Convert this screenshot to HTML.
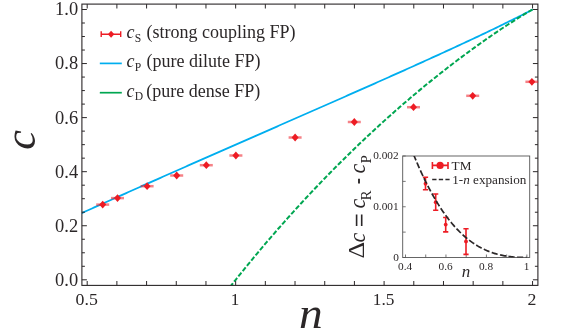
<!DOCTYPE html><html><head><meta charset="utf-8"><style>html,body{margin:0;padding:0;background:#fff}</style></head><body><svg width="581" height="329" viewBox="0 0 581 329" style="display:block;will-change:transform;font-family:'Liberation Serif',serif">
<rect width="581" height="329" fill="#fff"/>
<defs><clipPath id="cp2"><rect x="81.9" y="4.1" width="456.5" height="281.29999999999995"/></clipPath></defs>
<defs><clipPath id="cp"><rect x="81.9" y="4.1" width="456.0" height="281.29999999999995"/></clipPath></defs>
<g clip-path="url(#cp)">
<polyline points="78.29,214.65 80.58,213.62 82.86,212.58 85.14,211.55 87.42,210.52 89.71,209.48 91.99,208.45 94.27,207.42 96.55,206.39 98.84,205.36 101.12,204.33 103.40,203.31 105.69,202.28 107.97,201.25 110.25,200.23 112.53,199.20 114.82,198.18 117.10,197.15 119.38,196.13 121.66,195.11 123.95,194.09 126.23,193.07 128.51,192.04 130.80,191.02 133.08,190.00 135.36,188.99 137.64,187.97 139.93,186.95 142.21,185.93 144.49,184.92 146.77,183.90 149.06,182.88 151.34,181.87 153.62,180.85 155.90,179.84 158.19,178.83 160.47,177.81 162.75,176.80 165.04,175.79 167.32,174.78 169.60,173.76 171.88,172.75 174.17,171.74 176.45,170.73 178.73,169.72 181.01,168.71 183.30,167.70 185.58,166.70 187.86,165.69 190.15,164.68 192.43,163.67 194.71,162.67 196.99,161.66 199.28,160.65 201.56,159.65 203.84,158.64 206.12,157.63 208.41,156.63 210.69,155.62 212.97,154.62 215.25,153.62 217.54,152.61 219.82,151.61 222.10,150.60 224.39,149.60 226.67,148.60 228.95,147.59 231.23,146.59 233.52,145.59 235.80,144.58 238.08,143.58 240.36,142.58 242.65,141.58 244.93,140.58 247.21,139.57 249.50,138.57 251.78,137.57 254.06,136.57 256.34,135.57 258.63,134.57 260.91,133.56 263.19,132.56 265.47,131.56 267.76,130.56 270.04,129.56 272.32,128.56 274.61,127.56 276.89,126.56 279.17,125.55 281.45,124.55 283.74,123.55 286.02,122.55 288.30,121.55 290.58,120.55 292.87,119.55 295.15,118.54 297.43,117.54 299.71,116.54 302.00,115.54 304.28,114.53 306.56,113.53 308.85,112.53 311.13,111.53 313.41,110.52 315.69,109.52 317.98,108.52 320.26,107.51 322.54,106.51 324.82,105.50 327.11,104.50 329.39,103.50 331.67,102.49 333.96,101.48 336.24,100.48 338.52,99.47 340.80,98.47 343.09,97.46 345.37,96.45 347.65,95.44 349.93,94.44 352.22,93.43 354.50,92.42 356.78,91.41 359.06,90.40 361.35,89.39 363.63,88.38 365.91,87.36 368.20,86.35 370.48,85.34 372.76,84.32 375.04,83.31 377.33,82.30 379.61,81.28 381.89,80.26 384.17,79.25 386.46,78.23 388.74,77.21 391.02,76.19 393.31,75.17 395.59,74.15 397.87,73.13 400.15,72.11 402.44,71.08 404.72,70.06 407.00,69.03 409.28,68.01 411.57,66.98 413.85,65.95 416.13,64.92 418.42,63.89 420.70,62.86 422.98,61.82 425.26,60.79 427.55,59.75 429.83,58.72 432.11,57.68 434.39,56.64 436.68,55.60 438.96,54.56 441.24,53.51 443.52,52.47 445.81,51.42 448.09,50.37 450.37,49.32 452.66,48.27 454.94,47.22 457.22,46.16 459.50,45.10 461.79,44.05 464.07,42.98 466.35,41.92 468.63,40.85 470.92,39.79 473.20,38.72 475.48,37.64 477.77,36.57 480.05,35.49 482.33,34.41 484.61,33.33 486.90,32.24 489.18,31.15 491.46,30.06 493.74,28.96 496.03,27.86 498.31,26.76 500.59,25.65 502.87,24.54 505.16,23.43 507.44,22.31 509.72,21.18 512.01,20.05 514.29,18.91 516.57,17.77 518.85,16.62 521.14,15.46 523.42,14.30 525.70,13.12 527.98,11.93 530.27,10.73 532.55,9.50" fill="none" stroke="#00aeef" stroke-width="1.8"/>
<polyline points="532.55,9.50 531.02,10.37 529.49,11.25 527.96,12.15 526.43,13.05 524.90,13.97 523.37,14.89 521.85,15.83 520.32,16.76 518.79,17.71 517.26,18.66 515.73,19.62 514.20,20.59 512.67,21.56 511.14,22.54 509.61,23.52 508.08,24.51 506.55,25.51 505.02,26.51 503.49,27.52 501.96,28.53 500.44,29.54 498.91,30.57 497.38,31.59 495.85,32.63 494.32,33.67 492.79,34.71 491.26,35.76 489.73,36.81 488.20,37.87 486.67,38.93 485.14,40.00 483.61,41.07 482.08,42.15 480.56,43.23 479.03,44.32 477.50,45.41 475.97,46.51 474.44,47.61 472.91,48.72 471.38,49.83 469.85,50.95 468.32,52.07 466.79,53.19 465.26,54.32 463.73,55.46 462.20,56.60 460.67,57.74 459.15,58.89 457.62,60.05 456.09,61.20 454.56,62.37 453.03,63.54 451.50,64.71 449.97,65.88 448.44,67.07 446.91,68.25 445.38,69.44 443.85,70.64 442.32,71.84 440.79,73.04 439.27,74.25 437.74,75.46 436.21,76.68 434.68,77.91 433.15,79.13 431.62,80.37 430.09,81.60 428.56,82.84 427.03,84.09 425.50,85.34 423.97,86.60 422.44,87.86 420.91,89.12 419.38,90.39 417.86,91.66 416.33,92.94 414.80,94.23 413.27,95.51 411.74,96.81 410.21,98.10 408.68,99.41 407.15,100.71 405.62,102.02 404.09,103.34 402.56,104.66 401.03,105.99 399.50,107.32 397.98,108.65 396.45,109.99 394.92,111.33 393.39,112.68 391.86,114.04 390.33,115.40 388.80,116.76 387.27,118.13 385.74,119.50 384.21,120.88 382.68,122.26 381.15,123.65 379.62,125.04 378.09,126.44 376.57,127.84 375.04,129.25 373.51,130.66 371.98,132.08 370.45,133.50 368.92,134.92 367.39,136.35 365.86,137.79 364.33,139.23 362.80,140.68 361.27,142.13 359.74,143.59 358.21,145.05 356.69,146.51 355.16,147.99 353.63,149.46 352.10,150.94 350.57,152.43 349.04,153.92 347.51,155.42 345.98,156.92 344.45,158.43 342.92,159.94 341.39,161.45 339.86,162.98 338.33,164.50 336.80,166.04 335.28,167.57 333.75,169.12 332.22,170.67 330.69,172.22 329.16,173.78 327.63,175.34 326.10,176.91 324.57,178.49 323.04,180.07 321.51,181.65 319.98,183.24 318.45,184.84 316.92,186.44 315.40,188.05 313.87,189.66 312.34,191.28 310.81,192.90 309.28,194.53 307.75,196.16 306.22,197.80 304.69,199.45 303.16,201.10 301.63,202.75 300.10,204.42 298.57,206.08 297.04,207.76 295.51,209.44 293.99,211.12 292.46,212.81 290.93,214.51 289.40,216.21 287.87,217.91 286.34,219.63 284.81,221.35 283.28,223.07 281.75,224.80 280.22,226.54 278.69,228.28 277.16,230.03 275.63,231.78 274.11,233.54 272.58,235.31 271.05,237.08 269.52,238.86 267.99,240.64 266.46,242.43 264.93,244.22 263.40,246.03 261.87,247.83 260.34,249.65 258.81,251.47 257.28,253.29 255.75,255.13 254.22,256.96 252.70,258.81 251.17,260.66 249.64,262.52 248.11,264.38 246.58,266.25 245.05,268.13 243.52,270.01 241.99,271.90 240.46,273.79 238.93,275.70 237.40,277.60 235.87,279.52 234.34,281.44 232.82,283.37 231.29,285.30 229.76,287.24 228.23,289.19" fill="none" stroke="#00a651" stroke-width="2.0" stroke-dasharray="4.8 2.0"/>
</g>
<rect x="81.9" y="4.1" width="456.0" height="281.29999999999995" fill="none" stroke="#2b2728" stroke-width="1.1"/>
<path d="M87.20,285.4v-4.4M87.20,4.1v4.4M116.89,285.4v-4.4M116.89,4.1v4.4M146.58,285.4v-4.4M146.58,4.1v4.4M176.27,285.4v-4.4M176.27,4.1v4.4M205.96,285.4v-4.4M205.96,4.1v4.4M235.65,285.4v-4.4M235.65,4.1v4.4M265.34,285.4v-4.4M265.34,4.1v4.4M295.03,285.4v-4.4M295.03,4.1v4.4M324.72,285.4v-4.4M324.72,4.1v4.4M354.41,285.4v-4.4M354.41,4.1v4.4M384.10,285.4v-4.4M384.10,4.1v4.4M413.79,285.4v-4.4M413.79,4.1v4.4M443.48,285.4v-4.4M443.48,4.1v4.4M473.17,285.4v-4.4M473.17,4.1v4.4M502.86,285.4v-4.4M502.86,4.1v4.4M532.55,285.4v-4.4M532.55,4.1v4.4M81.9,279.80h5.0M537.9,279.80h-5.0M81.9,266.29h3.0M537.9,266.29h-3.0M81.9,252.77h3.0M537.9,252.77h-3.0M81.9,239.25h3.0M537.9,239.25h-3.0M81.9,225.74h5.0M537.9,225.74h-5.0M81.9,212.23h3.0M537.9,212.23h-3.0M81.9,198.71h3.0M537.9,198.71h-3.0M81.9,185.19h3.0M537.9,185.19h-3.0M81.9,171.68h5.0M537.9,171.68h-5.0M81.9,158.17h3.0M537.9,158.17h-3.0M81.9,144.65h3.0M537.9,144.65h-3.0M81.9,131.13h3.0M537.9,131.13h-3.0M81.9,117.62h5.0M537.9,117.62h-5.0M81.9,104.10h3.0M537.9,104.10h-3.0M81.9,90.59h3.0M537.9,90.59h-3.0M81.9,77.07h3.0M537.9,77.07h-3.0M81.9,63.56h5.0M537.9,63.56h-5.0M81.9,50.04h3.0M537.9,50.04h-3.0M81.9,36.53h3.0M537.9,36.53h-3.0M81.9,23.01h3.0M537.9,23.01h-3.0M81.9,9.50h5.0M537.9,9.50h-5.0" stroke="#2b2728" stroke-width="1.0" fill="none"/>
<text transform="translate(86.70,305.00) scale(1.0244,1)" font-size="17.4" text-anchor="middle" fill="#2b2728" >0.5</text>
<text transform="translate(235.15,305.00) scale(0.985,1)" font-size="17.4" text-anchor="middle" fill="#2b2728" >1</text>
<text transform="translate(383.60,305.00) scale(0.99485,1)" font-size="17.4" text-anchor="middle" fill="#2b2728" >1.5</text>
<text transform="translate(532.05,305.00) scale(1.0244,1)" font-size="17.4" text-anchor="middle" fill="#2b2728" >2</text>
<text transform="translate(78.10,285.70) scale(1.03,1)" font-size="17.9" text-anchor="end" fill="#2b2728" >0.0</text>
<text transform="translate(78.10,231.64) scale(1.03,1)" font-size="17.9" text-anchor="end" fill="#2b2728" >0.2</text>
<text transform="translate(78.10,177.58) scale(1.03,1)" font-size="17.9" text-anchor="end" fill="#2b2728" >0.4</text>
<text transform="translate(78.10,123.52) scale(1.03,1)" font-size="17.9" text-anchor="end" fill="#2b2728" >0.6</text>
<text transform="translate(78.10,69.46) scale(1.03,1)" font-size="17.9" text-anchor="end" fill="#2b2728" >0.8</text>
<text transform="translate(78.10,15.40) scale(1.03,1)" font-size="17.9" text-anchor="end" fill="#2b2728" >1.0</text>
<text transform="translate(310.8,327.9) scale(1.09,1)" font-size="43.5" font-style="italic" text-anchor="middle" fill="#2b2728">n</text>
<text transform="translate(34.6,139.8) rotate(-90)" font-size="44.5" font-style="italic" text-anchor="middle" fill="#2b2728">c</text>
<g clip-path="url(#cp2)">
<rect x="96.20" y="203.35" width="13.00" height="2.5" fill="#ed1c24" opacity="0.55"/>
<path d="M99.20,204.60L102.70,200.70L106.20,204.60L102.70,208.50Z" fill="#ed1c24"/>
<rect x="111.00" y="196.85" width="13.00" height="2.5" fill="#ed1c24" opacity="0.55"/>
<path d="M114.00,198.10L117.50,194.20L121.00,198.10L117.50,202.00Z" fill="#ed1c24"/>
<rect x="140.60" y="184.95" width="13.00" height="2.5" fill="#ed1c24" opacity="0.55"/>
<path d="M143.60,186.20L147.10,182.30L150.60,186.20L147.10,190.10Z" fill="#ed1c24"/>
<rect x="170.20" y="174.25" width="13.00" height="2.5" fill="#ed1c24" opacity="0.55"/>
<path d="M173.20,175.50L176.70,171.60L180.20,175.50L176.70,179.40Z" fill="#ed1c24"/>
<rect x="199.80" y="163.95" width="13.00" height="2.5" fill="#ed1c24" opacity="0.55"/>
<path d="M202.80,165.20L206.30,161.30L209.80,165.20L206.30,169.10Z" fill="#ed1c24"/>
<rect x="229.40" y="154.25" width="13.00" height="2.5" fill="#ed1c24" opacity="0.55"/>
<path d="M232.40,155.50L235.90,151.60L239.40,155.50L235.90,159.40Z" fill="#ed1c24"/>
<rect x="288.60" y="136.25" width="13.00" height="2.5" fill="#ed1c24" opacity="0.55"/>
<path d="M291.60,137.50L295.10,133.60L298.60,137.50L295.10,141.40Z" fill="#ed1c24"/>
<rect x="347.80" y="120.75" width="13.00" height="2.5" fill="#ed1c24" opacity="0.55"/>
<path d="M350.80,122.00L354.30,118.10L357.80,122.00L354.30,125.90Z" fill="#ed1c24"/>
<rect x="407.00" y="105.95" width="13.00" height="2.5" fill="#ed1c24" opacity="0.55"/>
<path d="M410.00,107.20L413.50,103.30L417.00,107.20L413.50,111.10Z" fill="#ed1c24"/>
<rect x="466.20" y="94.55" width="13.00" height="2.5" fill="#ed1c24" opacity="0.55"/>
<path d="M469.20,95.80L472.70,91.90L476.20,95.80L472.70,99.70Z" fill="#ed1c24"/>
<rect x="525.40" y="80.55" width="13.00" height="2.5" fill="#ed1c24" opacity="0.55"/>
<path d="M528.40,81.80L531.90,77.90L535.40,81.80L531.90,85.70Z" fill="#ed1c24"/>
</g>
<path d="M101.2,34.2H120.7M101.2,31.3v5.8M120.7,31.3v5.8" stroke="#ed1c24" stroke-width="1.4" fill="none"/>
<path d="M107.90,34.20L111.10,30.70L114.30,34.20L111.10,37.70Z" fill="#ed1c24"/>
<text x="126.6" y="38.0" font-size="18" fill="#2b2728"><tspan font-style="italic">c</tspan><tspan font-size="11.6" dy="3.9" dx="0.2">S</tspan></text><text x="146.6" y="38.0" font-size="18" fill="#2b2728">(strong coupling FP)</text>
<path d="M99.8,63.4H121.8" stroke="#00aeef" stroke-width="1.7"/>
<text x="126.6" y="67.3" font-size="18" fill="#2b2728"><tspan font-style="italic">c</tspan><tspan font-size="11.6" dy="3.9" dx="0.2">P</tspan></text><text x="146.6" y="67.3" font-size="18" fill="#2b2728">(pure dilute FP)</text>
<path d="M99.8,92.7H121.8" stroke="#00a651" stroke-width="1.7"/>
<text x="126.6" y="96.5" font-size="18" fill="#2b2728"><tspan font-style="italic">c</tspan><tspan font-size="11.6" dy="3.9" dx="0.2">D</tspan></text><text x="146.2" y="96.5" font-size="18" fill="#2b2728">(pure dense FP)</text>
<rect x="402.7" y="156.0" width="127.00000000000006" height="101.5" fill="#fff" stroke="#555" stroke-width="0.9"/>
<defs><clipPath id="ci"><rect x="402.7" y="156.0" width="127.00000000000006" height="101.5"/></clipPath></defs>
<path d="M405.50,257.5v-3M425.73,257.5v-3M445.96,257.5v-3M466.19,257.5v-3M486.42,257.5v-3M506.65,257.5v-3M526.88,257.5v-3M402.7,257.50h3M402.7,232.12h3M402.7,206.75h3M402.7,181.38h3M402.7,156.00h3" stroke="#555" stroke-width="0.8" fill="none"/>
<text x="405.10" y="269.50" font-size="11.3" text-anchor="middle" fill="#2b2728" >0.4</text>
<text x="445.56" y="269.50" font-size="11.3" text-anchor="middle" fill="#2b2728" >0.6</text>
<text x="486.02" y="269.50" font-size="11.3" text-anchor="middle" fill="#2b2728" >0.8</text>
<text x="526.48" y="269.50" font-size="11.3" text-anchor="middle" fill="#2b2728" >1</text>
<text x="398.60" y="159.40" font-size="11.3" text-anchor="end" fill="#2b2728" >0.002</text>
<text x="398.60" y="209.80" font-size="11.3" text-anchor="end" fill="#2b2728" >0.001</text>
<text x="398.80" y="260.60" font-size="11.3" text-anchor="end" fill="#2b2728" >0</text>
<text x="466" y="276.5" font-size="17" font-style="italic" text-anchor="middle" fill="#2b2728">n</text>
<path d="M425.5,177.3V189.7M422.9,177.3h5.2M422.9,189.7h5.2" stroke="#ed1c24" stroke-width="1.6" fill="none"/>
<circle cx="425.5" cy="183.7" r="1.9" fill="#ed1c24"/>
<path d="M435.7,194.0V210.2M433.09999999999997,194.0h5.2M433.09999999999997,210.2h5.2" stroke="#ed1c24" stroke-width="1.6" fill="none"/>
<circle cx="435.7" cy="202.2" r="1.9" fill="#ed1c24"/>
<path d="M445.7,217.5V231.9M443.09999999999997,217.5h5.2M443.09999999999997,231.9h5.2" stroke="#ed1c24" stroke-width="1.6" fill="none"/>
<circle cx="445.7" cy="224.6" r="1.9" fill="#ed1c24"/>
<path d="M466.0,228.8V254.4M463.4,228.8h5.2M463.4,254.4h5.2" stroke="#ed1c24" stroke-width="1.6" fill="none"/>
<circle cx="466.0" cy="241.4" r="1.9" fill="#ed1c24"/>
<polyline clip-path="url(#ci)" points="405.50,133.26 406.52,136.09 407.54,138.88 408.56,141.62 409.58,144.32 410.60,146.99 411.62,149.60 412.64,152.18 413.66,154.72 414.68,157.22 415.70,159.67 416.72,162.09 417.74,164.46 418.76,166.80 419.78,169.10 420.80,171.36 421.82,173.58 422.84,175.76 423.86,177.91 424.88,180.02 425.90,182.09 426.92,184.12 427.94,186.12 428.96,188.08 429.98,190.00 431.00,191.90 432.02,193.75 433.04,195.57 434.06,197.36 435.08,199.11 436.10,200.83 437.12,202.51 438.14,204.16 439.16,205.78 440.18,207.36 441.20,208.92 442.22,210.44 443.24,211.93 444.26,213.39 445.28,214.82 446.30,216.21 447.32,217.58 448.34,218.92 449.36,220.22 450.38,221.50 451.40,222.75 452.42,223.97 453.44,225.16 454.46,226.33 455.48,227.46 456.50,228.57 457.52,229.65 458.54,230.71 459.56,231.74 460.58,232.74 461.60,233.72 462.62,234.67 463.64,235.60 464.66,236.50 465.68,237.37 466.70,238.23 467.72,239.06 468.74,239.86 469.76,240.65 470.78,241.41 471.80,242.14 472.82,242.86 473.84,243.55 474.86,244.22 475.88,244.87 476.90,245.50 477.92,246.11 478.94,246.70 479.96,247.27 480.98,247.82 482.00,248.35 483.02,248.86 484.04,249.35 485.06,249.83 486.08,250.28 487.10,250.72 488.12,251.14 489.14,251.55 490.16,251.93 491.18,252.30 492.20,252.66 493.22,253.00 494.24,253.32 495.26,253.63 496.28,253.93 497.30,254.21 498.32,254.47 499.34,254.72 500.36,254.96 501.38,255.19 502.40,255.40 503.42,255.60 504.44,255.79 505.46,255.96 506.48,256.13 507.50,256.28 508.52,256.42 509.54,256.55 510.56,256.68 511.58,256.79 512.60,256.89 513.62,256.98 514.64,257.07 515.66,257.14 516.68,257.21 517.70,257.27 518.72,257.32 519.74,257.37 520.76,257.40 521.78,257.43 522.80,257.46 523.82,257.48 524.84,257.49 525.86,257.50 526.88,257.50" fill="none" stroke="#2b2728" stroke-width="1.7" stroke-dasharray="6.2 2.4" stroke-dashoffset="3"/>
<path d="M432.4,165.4H448M432.4,162v7M448,162v7" stroke="#ed1c24" stroke-width="1.6" fill="none"/>
<circle cx="440.1" cy="165.4" r="3.6" fill="#ed1c24"/>
<text x="451.6" y="169.6" font-size="13.2" fill="#2b2728">TM</text>
<path d="M432.2,179.4H449.6" stroke="#2b2728" stroke-width="1.5" stroke-dasharray="4.3 2.3"/>
<text x="452.3" y="183.7" font-size="13.15" fill="#2b2728">1-<tspan font-style="italic">n</tspan> expansion</text>
<text transform="translate(364.3,258.5) rotate(-90) scale(1.1,1.0)" font-size="23.6" fill="#2b2728">Δ</text>
<text transform="translate(364.6,242.5) rotate(-90) scale(1.0,1.0)" font-size="22.2" font-style="italic" fill="#2b2728">c</text>
<path d="M356.6,214.4V226.1M361.7,214.4V226.1" stroke="#2b2728" stroke-width="1.6"/>
<text transform="translate(364.6,208.4) rotate(-90) scale(1.0,1.0)" font-size="22.2" font-style="italic" fill="#2b2728">c</text>
<text transform="translate(371.3,200.5) rotate(-90) scale(1.0,1.0)" font-size="15.2" fill="#2b2728">R</text>
<path d="M359.0,178.8V183.6" stroke="#2b2728" stroke-width="1.9"/>
<text transform="translate(364.6,173.4) rotate(-90) scale(1.0,1.0)" font-size="22.2" font-style="italic" fill="#2b2728">c</text>
<text transform="translate(371.3,163.6) rotate(-90) scale(1.0,1.0)" font-size="15.2" fill="#2b2728">P</text>
</svg></body></html>
